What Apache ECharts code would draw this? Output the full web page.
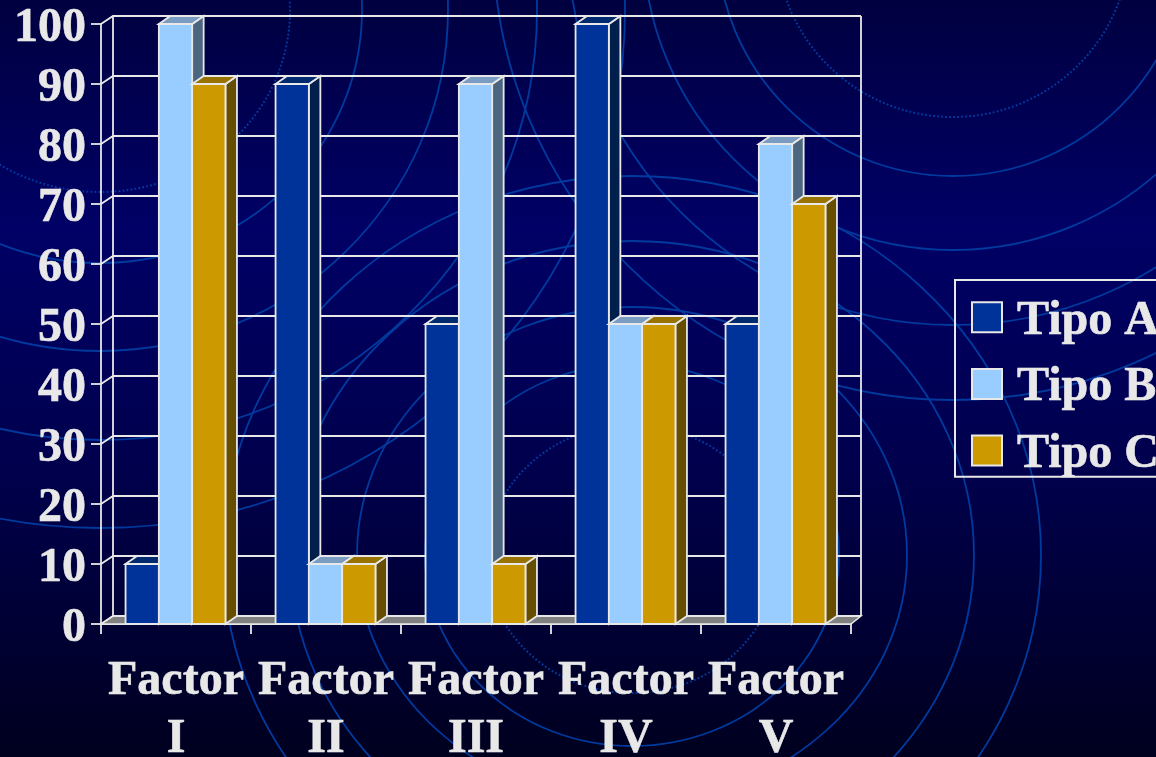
<!DOCTYPE html>
<html><head><meta charset="utf-8">
<style>html,body{margin:0;padding:0;background:#000040;overflow:hidden}#c{width:1156px;height:757px}</style>
<script src="https://cdn.jsdelivr.net/npm/echarts@6/dist/echarts.min.js"></script>
</head><body><div id="c"></div>
<script>
const categories = ['Factor\nI','Factor\nII','Factor\nIII','Factor\nIV','Factor\nV'];
const tipoA = [10,90,50,100,50];
const tipoB = [100,10,90,50,80];
const tipoC = [90,10,10,50,70];
const yTicks = [0,10,20,30,40,50,60,70,80,90,100];
const INK = '#e8e8e8';
const FONT = '"Liberation Serif","Times New Roman",serif';
const palette = {
  'Tipo A': {front:'#003399', side:'#001f4d', top:'#002a70'},
  'Tipo B': {front:'#99ccff', side:'#4d667f', top:'#7a9cc2'},
  'Tipo C': {front:'#cc9900', side:'#664d00', top:'#997300'}
};
const rings = [
  [953,-60,177,177,true],[953,-60,236,236],[953,-60,310,310],[953,-60,385,385],[953,-60,460,460],
  [100,10,190,182,true],[100,10,262,253],[100,10,348,341],[100,10,437,430],[100,10,525,518],
  [632,559,145,134,true],[632,555,207,191],[632,555,275,248],[632,555,342,314],[632,555,409,379]
];
const ringEls = rings.map(r=>({type:'ellipse',silent:true,z:-10,
  shape:{cx:r[0],cy:r[1],rx:r[2],ry:r[3]},
  style:{fill:'none',stroke:'#003a9e',lineWidth:r[4]?2:1.8,lineDash:r[4]?[1.8,2.2]:null}}));

function barSeries(name,values,slot){
  const c = palette[name];
  return {
    name, type:'custom', z:3, silent:true, clip:false,
    itemStyle:{color:c.front,borderColor:INK,borderWidth:2},
    encode:{x:0,y:1},
    data: values.map((v,i)=>[i,v]),
    renderItem(params,api){
      const band = api.size([1,0])[0];
      const w = band*0.222;
      const top = api.coord([api.value(0),api.value(1)]);
      const base = api.coord([api.value(0),0]);
      const x0 = top[0]-0.5+(slot-1.5)*w, x1 = x0+w, yT = top[1], yB = base[1];
      const dx = 11.5, dy = 8;
      const st = f=>({fill:f,stroke:INK,lineWidth:1.8});
      return {type:'group',children:[
        {type:'polygon',shape:{points:[[x1,yB],[x1+dx,yB-dy],[x1+dx,yT-dy],[x1,yT]]},style:st(c.side)},
        {type:'polygon',shape:{points:[[x0,yT],[x0+dx,yT-dy],[x1+dx,yT-dy],[x1,yT]]},style:st(c.top)},
        {type:'rect',shape:{x:x0,y:yT,width:w,height:yB-yT},style:st(c.front)}
      ]};
    }
  };
}
const wallSeries = {
  type:'custom', name:'wall', z:1, silent:true, clip:false, encode:{x:0,y:1},
  data: yTicks.map(v=>[0,v]),
  renderItem(params,api){
    const band = api.size([1,0])[0];
    const p = api.coord([0,api.value(1)]);
    const L = p[0]-band/2, R = L+band*categories.length, y = p[1];
    const st = {stroke:INK,lineWidth:1.8,fill:'none'};
    const kids = [
      {type:'polyline',shape:{points:[[L,y],[L+12,y-8],[R+10,y-8]]},style:st}
    ];
    if(api.value(1)===0){
      const q = api.coord([0,100]);
      kids.unshift({type:'polygon',shape:{points:[[L,y],[L+12,y-8],[R+10,y-8],[R,y]]},style:{fill:'#808080',stroke:INK,lineWidth:1.5}});
      kids.push({type:'line',shape:{x1:L+12,y1:y-8,x2:L+12,y2:q[1]-8},style:st});
      kids.push({type:'line',shape:{x1:R+10,y1:y-8,x2:R+10,y2:q[1]-8},style:st});
    }
    return {type:'group',children:kids};
  }
};
const boldText = {color:INK,fontFamily:FONT,fontWeight:'bold',fontSize:48,textBorderColor:INK,textBorderWidth:0.6};
const chart = echarts.init(document.getElementById('c'),null,{renderer:'canvas'});
chart.setOption({
  animation:false,
  backgroundColor:{type:'linear',x:0,y:0,x2:0,y2:1,colorStops:[
    {offset:0,color:'#000040'},{offset:0.3,color:'#000066'},{offset:0.62,color:'#00004d'},{offset:1,color:'#00001f'}]},
  graphic:{elements:ringEls},
  grid:{left:101,top:24,width:750,height:600,containLabel:false,outerBoundsMode:'none'},
  xAxis:{type:'category',data:categories,boundaryGap:true,
    axisLine:{lineStyle:{color:INK,width:1.8}},
    axisTick:{show:true,length:10,lineStyle:{color:INK,width:1.8}},
    axisLabel:Object.assign({interval:0,lineHeight:58,margin:29,hideOverlap:false},boldText)},
  yAxis:{type:'value',min:0,max:100,interval:10,
    splitLine:{show:false},
    axisLine:{show:true,lineStyle:{color:INK,width:1.8}},
    axisTick:{show:true,length:10,lineStyle:{color:INK,width:1.8}},
    axisLabel:Object.assign({margin:15,showMinLabel:true,showMaxLabel:true,verticalAlign:'top',lineHeight:10},boldText)},
  legend:{data:['Tipo A','Tipo B','Tipo C'],orient:'vertical',left:955,top:280,
    padding:[17,60,-2,16],itemWidth:30,itemHeight:30,itemGap:18,selectedMode:false,icon:'rect',
    borderColor:INK,borderWidth:2,
    formatter:n=>'{t|'+n+'}',
    textStyle:{color:INK,rich:{t:Object.assign({},boldText,{padding:[8,0,0,10]})}}},
  series:[wallSeries,barSeries('Tipo A',tipoA,0),barSeries('Tipo B',tipoB,1),barSeries('Tipo C',tipoC,2)]
});
</script></body></html>
